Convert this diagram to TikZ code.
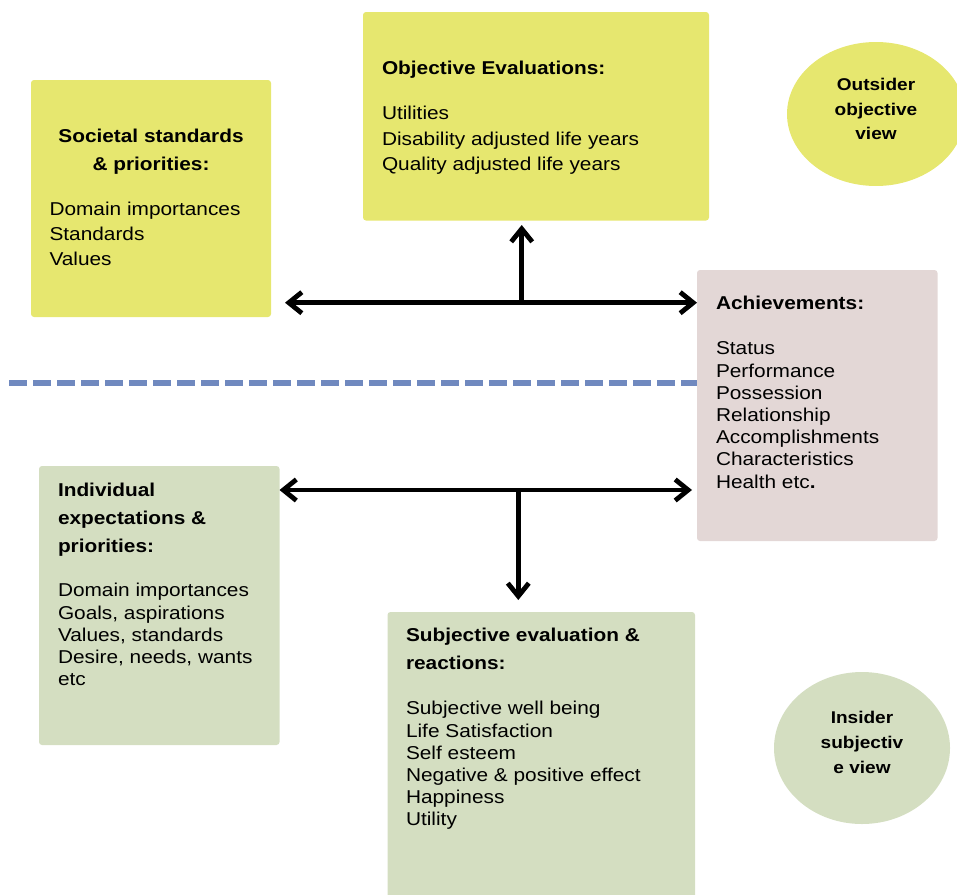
\documentclass[tikz,border=0pt]{standalone}
\usepackage{fontspec}
\setmainfont[FakeStretch=1.12]{Liberation Sans}
\usetikzlibrary{arrows.meta,shapes.geometric}
\definecolor{ylw}{HTML}{E6E76F}
\definecolor{pnk}{HTML}{E3D7D6}
\definecolor{grn}{HTML}{D4DEC1}
\definecolor{dsh}{HTML}{7089BF}
\begin{document}
\begin{tikzpicture}[x=1pt,y=-1pt,
  box/.style={draw=none, rounded corners=3pt, inner sep=0pt, outer sep=0pt, anchor=north west},
  oval/.style={ellipse, draw=none, inner sep=0pt, outer sep=0pt},
  txt/.style={inner sep=0pt, outer sep=0pt, anchor=north west, align=left},
  arr/.style={line width=4.8pt, -{Straight Barb[length=13pt,width=21pt]}},
  divider/.style={line width=6pt, draw=dsh, dash pattern=on 18pt off 6pt}]
\useasboundingbox (0,0) rectangle (957,894);

% dashed divider
\coordinate (dstart) at (9,383.3);
\coordinate (dend) at (697,383.3);
\draw[divider] (dstart) -- (dend);

% boxes
\node[box, fill=ylw, minimum width=240pt, minimum height=237pt] (soc) at (31,80) {};
\node[box, fill=ylw, minimum width=346pt, minimum height=208.5pt] (obj) at (363,12) {};
\node[box, fill=pnk, minimum width=240.5pt, minimum height=271pt] (ach) at (697,270) {};
\node[box, fill=grn, minimum width=240.5pt, minimum height=279pt] (ind) at (39,466) {};
\node[box, fill=grn, minimum width=307.5pt, minimum height=300pt] (subj) at (387.5,612) {};
\node[oval, fill=ylw, minimum width=178pt, minimum height=144pt] (outs) at (876,114) {};
\node[oval, fill=grn, minimum width=176pt, minimum height=152pt] (ins) at (862,748) {};

% texts
\node[txt, font=\fontsize{18.6}{25.5}\selectfont] (objt) at (382,61.4)
  {\textbf{Objective Evaluations:}\\[19.5pt]Utilities\\Disability adjusted life years\\Quality adjusted life years};
\node[inner sep=0pt, anchor=north, align=center, font=\bfseries\fontsize{18.6}{28}\selectfont] (soch) at (151,128.4)
  {Societal standards\\\& priorities:};
\node[txt, font=\fontsize{18.6}{25}\selectfont] (socb) at (49.5,202.4)
  {Domain importances\\Standards\\Values};
\node[txt, font=\fontsize{18.6}{22.2}\selectfont] (acht) at (716,296.4)
  {\textbf{Achievements:}\\[22.8pt]Status\\Performance\\Possession\\Relationship\\Accomplishments\\Characteristics\\Health etc\textbf{.}};
\node[txt, font=\fontsize{18.6}{22.2}\selectfont] (indt) at (58,483.4)
  {\textbf{Individual}\\[5.8pt]\textbf{expectations \&}\\[5.8pt]\textbf{priorities:}\\[21.8pt]Domain importances\\Goals, aspirations\\Values, standards\\Desire, needs, wants\\etc};
\node[txt, font=\fontsize{18.6}{22.2}\selectfont] (subt) at (406,628.4)
  {\textbf{Subjective evaluation \&}\\[5.8pt]\textbf{reactions:}\\[22.8pt]Subjective well being\\Life Satisfaction\\Self esteem\\Negative \& positive effect\\Happiness\\Utility};
\node[inner sep=0pt, align=center, font=\bfseries\fontsize{17}{24.5}\selectfont] (outt) at ([yshift=4.6pt]outs.center)
  {Outsider\\objective\\view};
\node[inner sep=0pt, align=center, font=\bfseries\fontsize{17}{25}\selectfont] (inst) at ([yshift=6pt]ins.center)
  {Insider\\subjectiv\\e view};

% connectors
\coordinate (j1) at (521.7,302.7);
\coordinate (j2) at (518.3,490);
\draw[arr, shorten >=14pt] (j1) -- (j1 -| soc.east);
\draw[arr] (j1) -- (j1 -| ach.west);
\draw[arr, shorten >=4.5pt] (j1) -- (j1 |- obj.south);
\draw[arr] (j2) -- (j2 -| ind.east);
\draw[arr, shorten >=5pt] (j2) -- (j2 -| ach.west);
\draw[arr, shorten >=12pt] (j2) -- (j2 |- subj.north);
\end{tikzpicture}
\end{document}
